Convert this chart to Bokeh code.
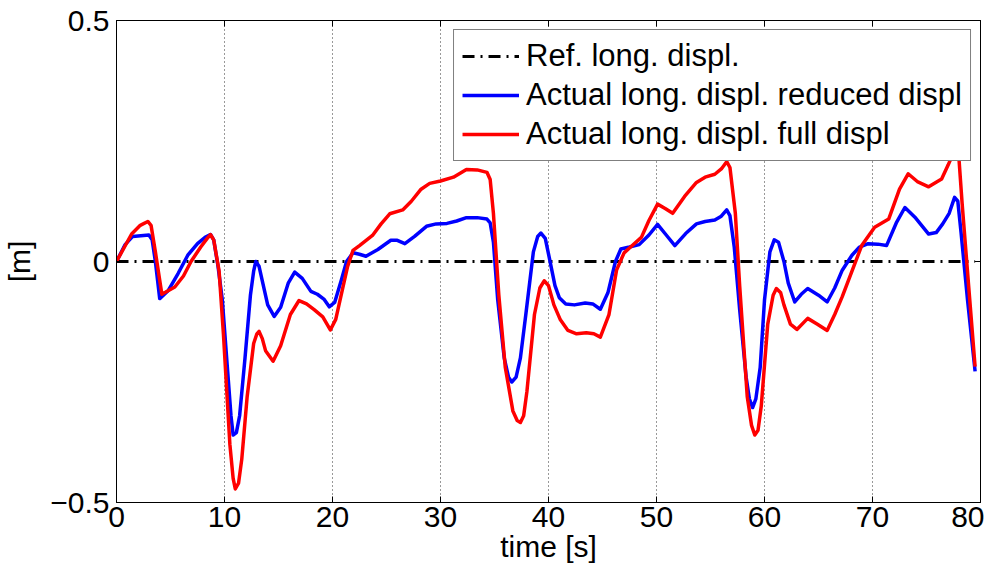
from bokeh.plotting import figure
from bokeh.models import FixedTicker, LinearAxis, Range1d, Legend, LegendItem
from bokeh.embed import file_html
from bokeh.resources import INLINE

# ---- data ----
ref_t = [0.0, 79.5]
ref_v = [0.0, 0.0]

blue_t = [0.0, 0.8, 1.5, 3.0, 3.3, 3.6, 4.0, 4.8, 5.7, 6.6, 7.5, 8.2, 8.7, 9.0, 9.4, 9.8, 10.3,
          10.6, 10.8, 11.1, 11.4, 11.9, 12.4, 12.7, 12.9, 13.2, 13.5, 14.0, 14.6, 15.2, 15.9,
          16.5, 17.2, 18.0, 18.6, 19.2, 19.7, 20.2, 20.8, 21.3, 21.9, 22.5, 23.1, 24.2, 25.4,
          26.0, 26.7, 27.6, 28.7, 29.6, 30.6, 31.5, 32.4, 33.4, 34.3, 34.6, 34.9, 35.3, 35.9,
          36.3, 36.6, 37.0, 37.4, 37.9, 38.6, 39.0, 39.3, 39.7, 40.1, 40.6, 41.0, 41.6, 42.4,
          43.4, 44.1, 44.8, 45.5, 46.2, 46.7, 47.5, 48.4, 49.3, 50.1, 50.9, 51.7, 52.7, 53.7,
          54.5, 55.4, 56.0, 56.5, 56.8, 57.2, 57.7, 58.3, 58.6, 58.9, 59.2, 59.6, 60.0, 60.5,
          60.9, 61.3, 61.8, 62.2, 62.8, 63.4, 64.0, 65.0, 65.8, 66.5, 67.2, 68.1, 68.8, 69.6,
          70.5, 71.3, 72.2, 73.0, 74.0, 75.2, 75.9, 76.5, 77.1, 77.6, 77.9, 78.2, 78.8, 79.5]
blue_v = [0.000, 0.035, 0.052, 0.055, 0.045, 0.000, -0.077, -0.060, -0.025, 0.013, 0.037, 0.050,
          0.056, 0.045, -0.010, -0.080, -0.230, -0.320, -0.360, -0.355, -0.320, -0.200, -0.070,
          -0.020, 0.000, -0.010, -0.040, -0.090, -0.114, -0.095, -0.045, -0.022, -0.035, -0.062,
          -0.068, -0.078, -0.094, -0.085, -0.040, 0.000, 0.018, 0.015, 0.011, 0.025, 0.044,
          0.044, 0.037, 0.052, 0.073, 0.078, 0.079, 0.084, 0.091, 0.091, 0.088, 0.080, 0.040,
          -0.080, -0.200, -0.240, -0.250, -0.240, -0.200, -0.110, 0.020, 0.052, 0.059, 0.048,
          0.005, -0.050, -0.075, -0.088, -0.090, -0.086, -0.088, -0.099, -0.065, 0.000, 0.026,
          0.030, 0.035, 0.055, 0.077, 0.055, 0.033, 0.058, 0.078, 0.083, 0.086, 0.094, 0.107,
          0.095, 0.030, -0.100, -0.240, -0.285, -0.303, -0.285, -0.220, -0.080, 0.020, 0.045,
          0.040, 0.000, -0.045, -0.084, -0.068, -0.056, -0.070, -0.084, -0.055, -0.018, 0.013,
          0.030, 0.037, 0.036, 0.033, 0.080, 0.112, 0.090, 0.057, 0.060, 0.078, 0.100, 0.133,
          0.125, 0.060, -0.080, -0.228]

red_t = [0.0, 1.4, 2.2, 2.9, 3.2, 3.6, 4.2, 5.4, 6.2, 6.9, 7.8, 8.4, 8.7, 9.0, 9.5, 9.9, 10.5,
         10.8, 11.0, 11.3, 11.6, 12.1, 12.7, 13.0, 13.2, 13.5, 13.8, 14.5, 15.2, 16.1, 16.9,
         17.6, 18.3, 19.1, 19.8, 20.3, 20.9, 21.4, 21.9, 22.5, 23.7, 24.5, 25.3, 26.5, 27.3,
         28.2, 29.0, 30.0, 31.2, 32.4, 33.4, 34.3, 34.6, 34.9, 35.4, 36.0, 36.7, 37.1, 37.4,
         37.7, 38.0, 38.7, 39.2, 39.6, 40.0, 40.5, 41.1, 41.8, 42.6, 43.5, 44.2, 44.8, 45.6,
         46.3, 47.0, 47.6, 48.6, 49.3, 50.1, 50.8, 51.5, 52.6, 53.7, 54.5, 55.4, 56.0, 56.5,
         56.8, 57.3, 57.7, 58.4, 58.8, 59.1, 59.4, 59.7, 60.3, 60.8, 61.1, 61.5, 61.8, 62.4,
         63.0, 64.0, 64.9, 65.8, 66.5, 67.2, 68.1, 69.0, 70.2, 71.5, 72.5, 73.3, 74.2, 75.2,
         76.4, 77.0, 77.7, 78.0, 78.3, 78.9, 79.5]
red_v = [0.000, 0.057, 0.075, 0.083, 0.075, 0.020, -0.068, -0.053, -0.030, 0.000, 0.030, 0.048,
         0.056, 0.045, -0.020, -0.150, -0.380, -0.450, -0.472, -0.460, -0.410, -0.280, -0.170,
         -0.150, -0.145, -0.160, -0.185, -0.207, -0.175, -0.110, -0.081, -0.088, -0.100,
         -0.115, -0.142, -0.120, -0.060, -0.010, 0.023, 0.033, 0.054, 0.078, 0.099, 0.107,
         0.125, 0.150, 0.162, 0.167, 0.175, 0.191, 0.190, 0.185, 0.170, 0.100, -0.070, -0.220,
         -0.310, -0.330, -0.334, -0.320, -0.270, -0.110, -0.055, -0.040, -0.050, -0.090,
         -0.121, -0.143, -0.150, -0.148, -0.150, -0.157, -0.110, -0.018, 0.018, 0.030, 0.050,
         0.085, 0.119, 0.110, 0.100, 0.135, 0.164, 0.175, 0.181, 0.192, 0.207, 0.195, 0.100,
         -0.050, -0.280, -0.340, -0.360, -0.350, -0.300, -0.130, -0.070, -0.056, -0.065, -0.090,
         -0.130, -0.141, -0.118, -0.130, -0.143, -0.110, -0.073, -0.020, 0.033, 0.071, 0.088,
         0.150, 0.182, 0.165, 0.155, 0.171, 0.200, 0.236, 0.215, 0.120, -0.050, -0.218]

x_ticks = [0, 10, 20, 30, 40, 50, 60, 70, 80]
y_ticks = [-0.5, 0, 0.5]
y_tick_labels = {-0.5: "\u22120.5", 0: "0", 0.5: "0.5"}

labels = ["Ref. long. displ.", "Actual long. displ. reduced displ", "Actual long. displ. full displ"]

FONT = "Liberation Sans"
FS = "30px"

p = figure(width=984, height=565, output_backend="svg", toolbar_location=None,
           x_range=Range1d(0, 80), y_range=Range1d(-0.5, 0.5),
           min_border_left=0, min_border_top=20, min_border_right=4, min_border_bottom=0)
p.background_fill_color = "white"
p.border_fill_color = "white"
p.outline_line_color = "black"
p.outline_line_width = 1

r_ref = p.line(ref_t, ref_v, line_color="black", line_width=3, line_dash="12 6 2 6")
r_blue = p.line(blue_t, blue_v, line_color="#0000ff", line_width=3.5, line_join="round")
r_red = p.line(red_t, red_v, line_color="#ff0000", line_width=3.5, line_join="round")

# axes
for ax in [p.xaxis[0], p.yaxis[0]]:
    ax.major_tick_in = 6
    ax.major_tick_out = 0
    ax.minor_tick_in = 0
    ax.minor_tick_out = 0
    ax.axis_line_color = "black"
    ax.major_label_text_font = FONT
    ax.major_label_text_font_size = FS
    ax.major_label_text_color = "black"
    ax.axis_label_text_font = FONT
    ax.axis_label_text_font_size = FS
    ax.axis_label_text_font_style = "normal"
    ax.axis_label_text_color = "black"

p.xaxis[0].ticker = FixedTicker(ticks=x_ticks)
p.yaxis[0].ticker = FixedTicker(ticks=y_ticks)
p.yaxis[0].major_label_overrides = y_tick_labels
p.xaxis[0].axis_label = "time [s]"
p.yaxis[0].axis_label = "[m]"
p.xaxis[0].major_label_standoff = 4
p.xaxis[0].axis_label_standoff = 0
p.yaxis[0].major_label_standoff = 7
p.yaxis[0].axis_label_standoff = 11

top = LinearAxis(ticker=FixedTicker(ticks=x_ticks), major_tick_in=6, major_tick_out=0,
                 minor_tick_in=0, minor_tick_out=0, major_label_standoff=0,
                 major_label_overrides={t: "" for t in x_ticks}, axis_line_color="black")
right = LinearAxis(ticker=FixedTicker(ticks=y_ticks), major_tick_in=6, major_tick_out=0,
                   minor_tick_in=0, minor_tick_out=0, major_label_standoff=0,
                   major_label_overrides={t: "" for t in y_ticks}, axis_line_color="black")
p.add_layout(top, "above")
p.add_layout(right, "right")

# grid
p.xgrid.ticker = FixedTicker(ticks=x_ticks)
p.xgrid.grid_line_color = "#333333"
p.xgrid.grid_line_dash = "1 3"
p.xgrid.grid_line_width = 1
p.ygrid.grid_line_color = None

legend = Legend(items=[LegendItem(label=labels[0], renderers=[r_ref]),
                       LegendItem(label=labels[1], renderers=[r_blue]),
                       LegendItem(label=labels[2], renderers=[r_red])],
                location="top_right")
legend.margin = 9
legend.padding = 8
legend.spacing = 3
legend.label_height = 32
legend.glyph_height = 32
legend.glyph_width = 57
legend.label_standoff = 7
legend.label_text_font = FONT
legend.label_text_font_size = "31px"
legend.label_text_color = "black"
legend.border_line_color = "black"
legend.border_line_width = 1
legend.background_fill_color = "white"
legend.background_fill_alpha = 1.0
p.add_layout(legend)

open("out.html", "w").write(file_html(p, INLINE))
